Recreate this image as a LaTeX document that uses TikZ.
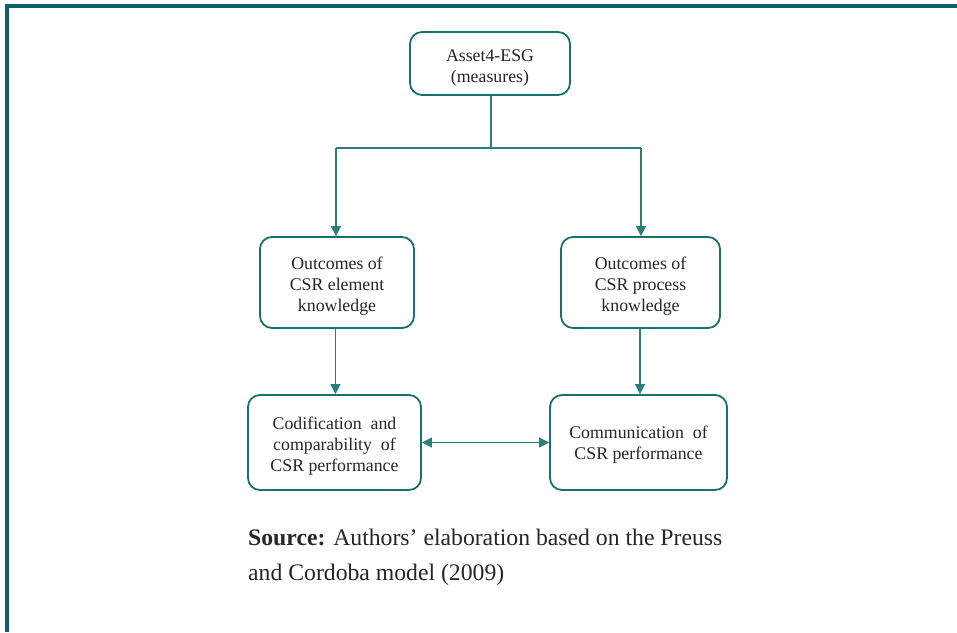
\documentclass[tikz,border=0pt]{standalone}
\usepackage{fontspec}
\setmainfont{Liberation Serif}
\usetikzlibrary{arrows.meta}
\definecolor{frameteal}{HTML}{0F6164}
\definecolor{boxteal}{HTML}{18706F}
\definecolor{lineteal}{HTML}{2A7F7D}
\newcommand{\topstrut}{\rule{0pt}{20pt}}
\tikzset{
  box/.style={draw=boxteal, line width=1.8pt, rounded corners=12pt, align=center,
    font=\fontsize{17.8}{21}\selectfont, text=black!85, inner sep=0pt},
  conn/.style={draw=lineteal, line width=1.1pt},
  tip/.style={-{Triangle[length=10pt,width=10pt]}},
  dtip/.style={{Triangle[length=10pt,width=10pt]}-{Triangle[length=10pt,width=10pt]}},
}
\begin{document}
\begin{tikzpicture}[x=1pt,y=-1pt]
\useasboundingbox (0,0) rectangle (957,632);
\fill[white] (0,0) rectangle (957,632);
\fill[frameteal] (5,4) rectangle (957,7.5);
\fill[frameteal] (5,4) rectangle (8.5,632);

\node[box, minimum width=160pt, minimum height=63pt] (top) at (490,63.5) {\topstrut Asset4-ESG\\(measures)};
\node[box, minimum width=154pt, minimum height=91pt] (om) at (337,282.5) {\topstrut Outcomes of\\CSR element\\knowledge};
\node[box, minimum width=159pt, minimum height=91pt] (op) at (640.5,282.5) {\topstrut Outcomes of\\CSR process\\knowledge};
\node[box, minimum width=173pt, minimum height=95pt] (cc) at (334.5,442.5) {\topstrut Codification\ \ and\\comparability\ \ of\\CSR performance};
\node[box, minimum width=177pt, minimum height=95pt] (cm) at (638.5,442.5) {\rule{0pt}{17pt}Communication\ \ of\\CSR performance};

\coordinate (split) at (491,148);
\coordinate (sl) at (336,148);
\coordinate (sr) at (641,148);
\draw[conn] (top.south -| split) -- (split);
\draw[conn] (sl) -- (sr);
\draw[conn, tip, fill=boxteal] (sl) -- (sl |- om.north);
\draw[conn, tip, fill=boxteal] (sr) -- (sr |- op.north);
\draw[conn, tip, fill=boxteal] (335.5,0 |- om.south) -- (335.5,0 |- cc.north);
\draw[conn, tip, fill=boxteal] (640,0 |- op.south) -- (640,0 |- cm.north);
\draw[conn, dtip, fill=boxteal] (cc.east) -- (cm.east -| cm.west);

\node[anchor=base west, inner sep=0pt, align=left, font=\fontsize{23.7}{35}\selectfont, text=black!85] (src) at (248,580)
  {\textbf{Source:} Authors’ elaboration based on the Preuss\\and Cordoba model (2009)};
\end{tikzpicture}
\end{document}
